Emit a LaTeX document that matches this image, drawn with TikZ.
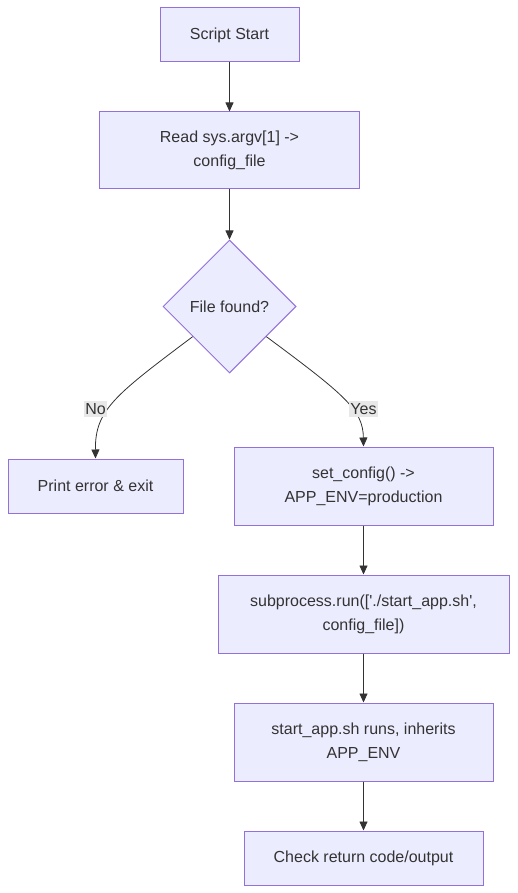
\documentclass[tikz,border=0pt]{standalone}
\usepackage{fontspec}
\setmainfont{Liberation Sans}
\usetikzlibrary{shapes.geometric,arrows.meta,calc}
\definecolor{boxfill}{HTML}{ECECFF}
\definecolor{boxline}{HTML}{9370DB}
\definecolor{txt}{HTML}{333333}
\definecolor{lblbg}{HTML}{E8E8E8}
\begin{document}
\begin{tikzpicture}[x=1pt,y=-1pt,
  box/.style={draw=boxline,fill=boxfill,line width=1pt,text=txt,font=\fontsize{16}{24}\selectfont,align=center,inner sep=0pt},
  dec/.style={draw=boxline,fill=boxfill,line width=1pt,text=txt,font=\fontsize{16}{24}\selectfont,diamond,aspect=1,minimum width=133,minimum height=133,inner sep=0pt},
  arr/.style={draw=txt,line width=0.8pt,-{Triangle[length=9pt,width=8pt]}},
  lbl/.style={fill=lblbg,text=txt,font=\fontsize{16}{20}\selectfont,inner xsep=1pt,inner ysep=2.5pt}]
\useasboundingbox (0,0) rectangle (517,893);
\node[box,minimum width=139,minimum height=54] (start) at (229.5,35) {Script Start};
\node[box,minimum width=260,minimum height=77] (read) at (229.5,150.5) {Read sys.argv[1] ->\\config\_file};
\node[dec] (dia) at (229.5,306.5) {File found?};
\node[box,minimum width=175,minimum height=54] (err) at (95.5,486) {Print error \& exit};
\node[box,minimum width=259,minimum height=78] (set) at (363.5,486) {set\_config() ->\\APP\_ENV=production};
\node[box,minimum width=291,minimum height=78] (sub) at (363.5,614) {subprocess.run([\textquotesingle./start\_app.sh\textquotesingle,\\config\_file])};
\node[box,minimum width=259,minimum height=78] (run) at (363.5,742) {start\_app.sh runs, inherits\\APP\_ENV};
\node[box,minimum width=239,minimum height=54] (chk) at (363.5,858) {Check return code/output};
\draw[arr] (start) -- (read);
\draw[arr] (read) -- (dia);
\coordinate (nostart) at ($(dia.west)!0.45!(dia.south)$);
\coordinate (yesstart) at ($(dia.east)!0.45!(dia.south)$);
\draw[arr] (nostart) .. controls (115,395) and (95,410) .. (err.north);
\draw[arr] (yesstart) .. controls (345,395) and (363,410) .. (set.north);
\node[lbl] (nolbl) at (95.5,409) {No};
\node[lbl] (yeslbl) at (363.5,409) {Yes};
\draw[arr] (set) -- (sub);
\draw[arr] (sub) -- (run);
\draw[arr] (run) -- (chk);
\end{tikzpicture}
\end{document}
